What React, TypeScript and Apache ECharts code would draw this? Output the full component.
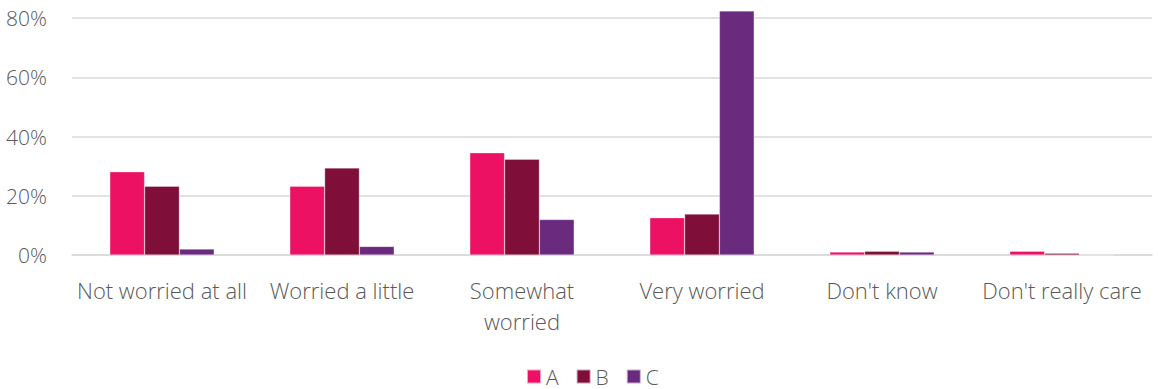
import React, { useEffect, useRef } from "react";
import * as echarts from "echarts";

const categories = ["Not worried at all", "Worried a little", "Somewhat\nworried", "Very worried", "Don't know", "Don't really care"];
const seriesA = [28.1, 23.2, 34.5, 12.6, 1.0, 1.3];
const seriesB = [23.2, 29.4, 32.3, 13.8, 1.3, 0.6];
const seriesC = [2.0, 2.9, 12.0, 82.4, 1.0, 0];
const seriesNames = ["A", "B", "C"];
const colors = ["#ED1164", "#7F0E38", "#6A2A7E"];

export default function App() {
  const ref = useRef<HTMLDivElement>(null);
  useEffect(() => {
    const chart = echarts.init(ref.current!, null, { renderer: "svg" });
    const font = "'Open Sans', 'Segoe UI', sans-serif";
    chart.setOption({
      animation: false,
      grid: { left: 72, right: 6, top: 18, bottom: 134, containLabel: false },
      legend: {
        data: seriesNames,
        bottom: -3,
        left: 521,
        itemWidth: 14,
        itemHeight: 14,
        itemGap: 17,
        icon: "rect",
        textStyle: { fontFamily: font, fontSize: 21, fontWeight: 300, color: "#595959" },
      },
      xAxis: {
        type: "category",
        data: categories,
        axisLine: { lineStyle: { color: "#d9d9d9", width: 1.5 } },
        axisTick: { show: false },
        axisLabel: { fontFamily: font, fontSize: 22, fontWeight: 300, color: "#595959", margin: 19, interval: 0, lineHeight: 31 },
      },
      yAxis: {
        type: "value",
        min: 0,
        max: 80,
        interval: 20,
        axisLabel: { formatter: "{value}%", fontFamily: font, fontSize: 21, fontWeight: 300, color: "#595959", margin: 25 },
        splitLine: { lineStyle: { color: "#d9d9d9", width: 1.5 } },
      },
      series: [seriesA, seriesB, seriesC].map((d, i) => ({
        name: seriesNames[i],
        type: "bar",
        data: d,
        clip: false,
        barGap: "0%",
        barCategoryGap: "42%",
        itemStyle: { color: colors[i], borderColor: "rgba(255,255,255,0.6)", borderWidth: 0.5 },
      })),
    });
    return () => chart.dispose();
  }, []);
  return <div ref={ref} style={{ width: 1158, height: 389, position: "absolute", left: 0, top: 0 }} />;
}
